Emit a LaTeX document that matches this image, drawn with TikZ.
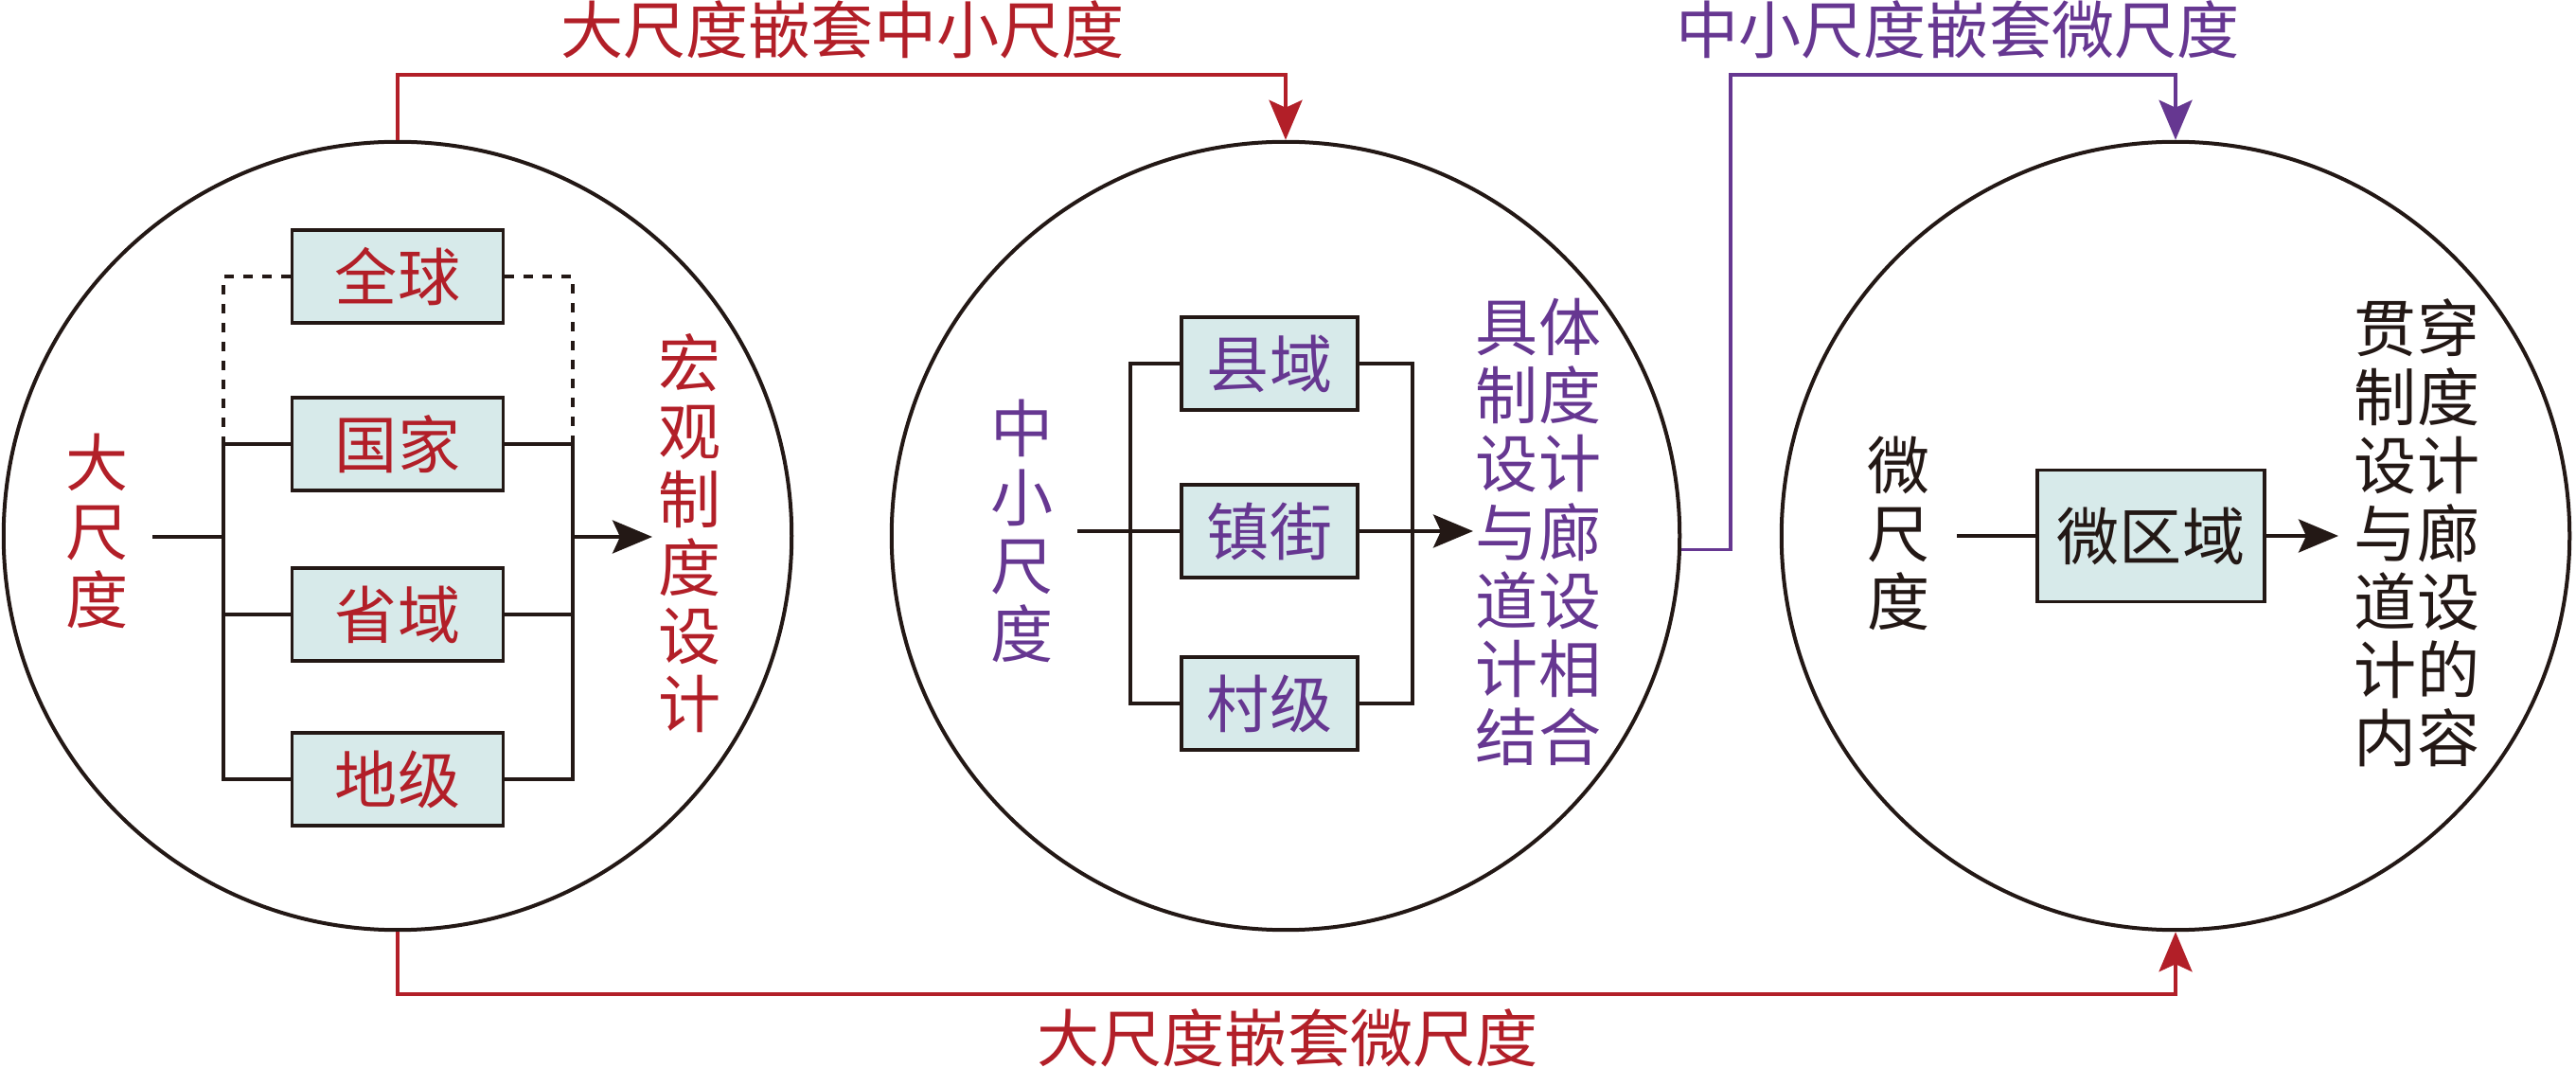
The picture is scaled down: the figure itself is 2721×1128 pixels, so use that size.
\documentclass[tikz,border=0pt]{standalone}
\usepackage{fontspec}
\setmainfont{Noto Sans CJK SC}
\usetikzlibrary{arrows.meta}
\definecolor{scalered}{RGB}{178,31,40}
\definecolor{scalepurple}{RGB}{102,55,145}
\definecolor{scaleblack}{RGB}{35,24,21}
\definecolor{boxfill}{RGB}{215,234,234}

\begin{document}
\begin{tikzpicture}[x=0.01cm, y=-0.01cm, color=scaleblack, line width=0.035cm,
    txt/.style={font=\fontsize{18.8pt}{20.5pt}\selectfont, align=center, inner sep=0pt},
    scalebox/.style={txt, draw=scaleblack, fill=boxfill, line width=0.035cm, minimum height=0.98cm},
    ring/.style={draw=scaleblack, circle, line width=0.04cm, minimum size=8.32cm, inner sep=0pt},
    tip/.style={-{Stealth[length=0.42cm, width=0.35cm, inset=0.08cm]}},
    dashline/.style={dash pattern=on 0.1cm off 0.1cm}]
    \useasboundingbox (0,0) rectangle (2721,1128);

    % Large scale
    \node[ring] (c1) at (420,566) {};
    \node[txt, text=scalered] (big) at (103,561) {大\\尺\\度};
    \node[scalebox, minimum width=2.23cm, text=scalered] (quanqiu) at (420,292) {全球};
    \node[scalebox, minimum width=2.23cm, text=scalered] (guojia) at (420,469) {国家};
    \node[scalebox, minimum width=2.23cm, text=scalered] (shengyu) at (420,649) {省域};
    \node[scalebox, minimum width=2.23cm, text=scalered] (diji) at (420,823) {地级};
    \node[txt, text=scalered] (macro) at (729,563) {宏\\观\\制\\度\\设\\计};
    \coordinate (bigin) at (161,567);
    \coordinate (bigbusl) at (236,567);
    \coordinate (bigbusr) at (605,567);
    \coordinate (bigout) at (689,567);
    \draw (bigin) -- (bigbusl);
    \draw (guojia.west) -- (guojia.west -| bigbusl) -- (diji.west -| bigbusl) -- (diji.west);
    \draw (shengyu.west) -- (shengyu.west -| bigbusl);
    \draw (guojia.east) -- (guojia.east -| bigbusr) -- (diji.east -| bigbusr) -- (diji.east);
    \draw (shengyu.east) -- (shengyu.east -| bigbusr);
    \draw[dashline] (quanqiu.west) -| (guojia.west -| bigbusl);
    \draw[dashline] (quanqiu.east) -| (guojia.east -| bigbusr);
    \draw[tip] (bigbusr) -- (bigout);

    % Middle and small scale
    \node[ring] (c2) at (1358,566) {};
    \node[txt, text=scalepurple] (mid) at (1080,561) {中\\小\\尺\\度};
    \node[scalebox, minimum width=1.86cm, text=scalepurple] (xianyu) at (1341,384) {县域};
    \node[scalebox, minimum width=1.86cm, text=scalepurple] (zhenjie) at (1341,561) {镇街};
    \node[scalebox, minimum width=1.86cm, text=scalepurple] (cunji) at (1341,743) {村级};
    \node[txt, text=scalepurple] (midres) at (1625,562) {具体\\制度\\设计\\与廊\\道设\\计相\\结合};
    \coordinate (midin) at (1138,561);
    \coordinate (midbusl) at (1194,561);
    \coordinate (midbusr) at (1492,561);
    \coordinate (midout) at (1556,561);
    \draw (midin) -- (zhenjie.west);
    \draw (xianyu.west) -- (xianyu.west -| midbusl) -- (cunji.west -| midbusl) -- (cunji.west);
    \draw (xianyu.east) -- (xianyu.east -| midbusr) -- (cunji.east -| midbusr) -- (cunji.east);
    \draw[tip] (zhenjie.east) -- (midout);

    % Micro scale
    \node[ring] (c3) at (2298,566) {};
    \node[txt] (micro) at (2006,563) {微\\尺\\度};
    \node[scalebox, minimum width=2.40cm, minimum height=1.39cm] (weiquyu) at (2272,566) {微区域};
    \node[txt] (microres) at (2553,563) {贯穿\\制度\\设计\\与廊\\道设\\计的\\内容};
    \coordinate (microin) at (2067,566);
    \coordinate (microout) at (2470,566);
    \draw (microin) -- (weiquyu.west);
    \draw[tip] (weiquyu.east) -- (microout);

    % Nesting links
    \coordinate (toprow) at (0,79);
    \coordinate (botrow) at (0,1050);
    \coordinate (purpx) at (1828,0);
    \draw[scalered, tip] (c1.north) |- (c2.north |- toprow) -- (c2.north);
    \node[txt, text=scalered] (nest1) at (890,31) {大尺度嵌套中小尺度};
    \draw[scalepurple, tip] (c2.-2) -- (c2.-2 -| purpx) |- (c3.north |- toprow) -- (c3.north);
    \node[txt, text=scalepurple] (nest2) at (2068,31) {中小尺度嵌套微尺度};
    \draw[scalered, tip] (c1.south) |- (c3.south |- botrow) -- (c3.south);
    \node[txt, text=scalered] (nest3) at (1360,1096) {大尺度嵌套微尺度};
\end{tikzpicture}
\end{document}
